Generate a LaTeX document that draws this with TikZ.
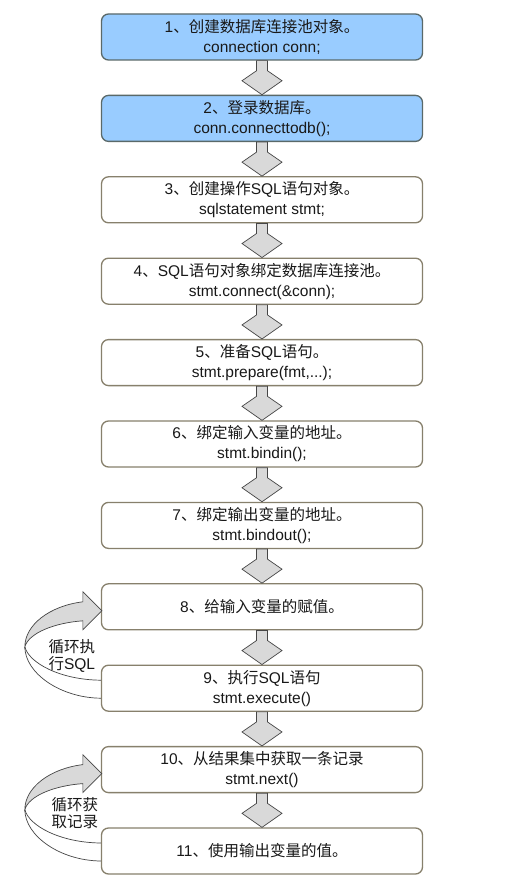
\documentclass[tikz,border=0pt]{standalone}
\usepackage{fontspec}
\setmainfont{Liberation Sans}
\newfontfamily\cjk{Noto Sans CJK SC}
\usetikzlibrary{calc, positioning}

\definecolor{boxblue}{RGB}{153,204,255}
\definecolor{blueedge}{RGB}{90,105,105}
\definecolor{boxedge}{RGB}{135,128,108}
\definecolor{arrowgray}{RGB}{217,217,217}
\definecolor{arrowedge}{RGB}{70,70,70}
\definecolor{textdark}{RGB}{25,25,25}

\newcommand{\zh}[1]{{\cjk #1}}

% block arrow from one stage down to the next
\newcommand{\downflow}[2]{%
 \draw [flow] ([xshift=-5.5pt]#1.south) -- ([shift={(-5.5,-24)}]#2.north) -- ([shift={(-20,-14)}]#2.north) -- (#2.north) -- ([shift={(20,-14)}]#2.north) -- ([shift={(5.5,-24)}]#2.north) -- ([xshift=5.5pt]#1.south) -- cycle;}

% curved arrow from the lower stage back to the upper one
\newcommand{\loopback}[2]{%
 \draw [loop] ([shift={(-18,-5)}]#1.west) .. controls ([shift={(-51,-1)}]#1.west) and ([shift={(-76,18)}]#1.west) .. ([shift={(-76,40)}]#1.west) .. controls ([shift={(-72,26)}]#1.west) and ([shift={(-46,16)}]#1.west) .. ([shift={(-18,14)}]#1.west) -- ([shift={(-18,23)}]#1.west) -- ([shift={(1,4)}]#1.west) -- ([shift={(-18,-15)}]#1.west) -- cycle;
 \draw [loopline] ([shift={(-76,40)}]#1.west) .. controls ([shift={(-76,66)}]#1.west) and ([shift={(-41,91)}]#1.west) .. ([shift={(0,10)}]#2.west);
 \draw [loopline] ([shift={(-76,40)}]#1.west) .. controls ([shift={(-72,56)}]#1.west) and ([shift={(-41,73)}]#1.west) .. ([shift={(0,-8)}]#2.west);}

\begin{document}
\begin{tikzpicture}[x=1pt, y=-1pt, node distance=81.4pt]
 % We define the styles for the stages and the arrows
 \tikzset{
block/.style = {draw=boxedge, fill=white, rectangle, rounded corners=7pt, line width=1.3pt, minimum height=46pt, minimum width=321pt, align=center, text=textdark, font=\fontsize{15.5}{20}\selectfont},
dbblock/.style = {block, fill=boxblue, draw=blueedge},
flow/.style = {fill=arrowgray, draw=arrowedge, line width=0.7pt, line join=miter},
loop/.style = {fill=arrowgray, draw=arrowedge, line width=0.7pt},
loopline/.style = {draw=arrowedge, line width=0.7pt},
looptext/.style = {align=center, text=textdark, font=\fontsize{15.5}{17}\selectfont},
}
 \useasboundingbox [fill=white] (0,0) rectangle (515,885);

 % Connection stages
 \node [dbblock] (s1) at (262,37) {1\zh{、创建数据库连接池对象。}\\connection conn;};
 \node [dbblock, below of=s1] (s2) {2\zh{、登录数据库。}\\conn.connecttodb();};

 % Statement stages
 \node [block, below of=s2] (s3) {3\zh{、创建操作}SQL\zh{语句对象。}\\sqlstatement stmt;};
 \node [block, below of=s3] (s4) {4\zh{、}SQL\zh{语句对象绑定数据库连接池。}\\stmt.connect(\&conn);};
 \node [block, below of=s4] (s5) {5\zh{、准备}SQL\zh{语句。}\\stmt.prepare(fmt,...);};
 \node [block, below of=s5] (s6) {6\zh{、绑定输入变量的地址。}\\stmt.bindin();};
 \node [block, below of=s6] (s7) {7\zh{、绑定输出变量的地址。}\\stmt.bindout();};

 % Execution and fetch stages
 \node [block, below of=s7] (s8) {8\zh{、给输入变量的赋值。}};
 \node [block, below of=s8] (s9) {9\zh{、执行}SQL\zh{语句}\\stmt.execute()};
 \node [block, below of=s9] (s10) {10\zh{、从结果集中获取一条记录}\\stmt.next()};
 \node [block, below of=s10] (s11) {11\zh{、使用输出变量的值。}};

 % Arrows between the stages
 \downflow{s1}{s2}
 \downflow{s2}{s3}
 \downflow{s3}{s4}
 \downflow{s4}{s5}
 \downflow{s5}{s6}
 \downflow{s6}{s7}
 \downflow{s7}{s8}
 \downflow{s8}{s9}
 \downflow{s9}{s10}
 \downflow{s10}{s11}

 % Loops and their labels
 \loopback{s8}{s9}
 \node [looptext] (loopsql) at ([shift={(-29,49.5)}]s8.west) {\zh{循环执}\\\zh{行}SQL};
 \loopback{s10}{s11}
 \node [looptext] (loopfetch) at ([shift={(-26,43.5)}]s10.west) {\zh{循环获}\\\zh{取记录}};

\end{tikzpicture}
\end{document}
